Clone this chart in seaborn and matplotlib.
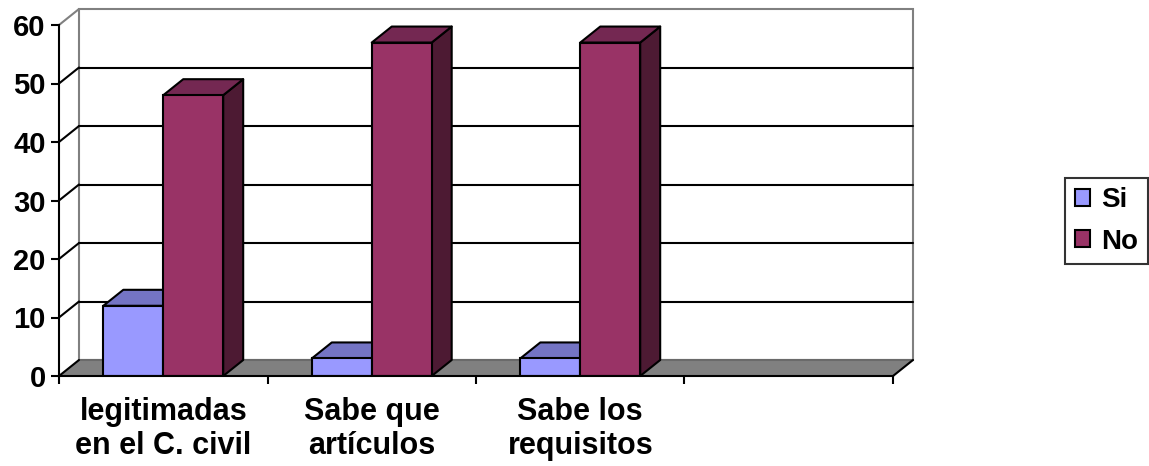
import numpy as np
import pandas as pd
import matplotlib
matplotlib.use("Agg")
import matplotlib.pyplot as plt
import seaborn as sns
from matplotlib.patches import Polygon, Patch
from matplotlib.lines import Line2D

# ---- data -------------------------------------------------------------
categories = ["legitimadas\nen el C. civil", "Sabe que\nartículos", "Sabe los\nrequisitos"]
series = ["Si", "No"]
si_values = [12, 3, 3]
no_values = [48, 57, 57]
y_ticks = [0, 10, 20, 30, 40, 50, 60]
n_slots = 4  # category slots on the axis (last one left empty)

# ---- style ------------------------------------------------------------
sns.set_theme(style="white")
plt.rcParams["font.family"] = ["Liberation Sans", "DejaVu Sans"]
plt.rcParams["font.weight"] = "bold"
plt.rcParams["text.color"] = "black"
plt.rcParams["xtick.color"] = "black"
plt.rcParams["ytick.color"] = "black"
plt.rcParams["xtick.labelcolor"] = "black"
plt.rcParams["ytick.labelcolor"] = "black"

front_colors = {"Si": "#9999FF", "No": "#993366"}
top_colors = {"Si": "#7474C4", "No": "#742852"}
side_colors = {"Si": "#5C5CA0", "No": "#4D1A33"}
FLOOR = "#808080"
WALL_EDGE = "#808080"
LW = 1.5
DEPTH_PX = (20, 16)  # depth of the 3D box in pixels (right, up)

W, H, DPI = 1149, 466, 100
fig = plt.figure(figsize=(W / DPI, H / DPI), dpi=DPI)
fig.patch.set_facecolor("white")
ax = fig.add_axes([59 / W, 90 / H, (893 - 59) / W, (376 - 25) / H])
ax.set_facecolor("none")

df = pd.DataFrame({
    "category": categories * 2,
    "series": ["Si"] * len(categories) + ["No"] * len(categories),
    "value": si_values + no_values,
})

sns.barplot(data=df, x="category", y="value", hue="series",
            order=categories, hue_order=series,
            palette=[front_colors[s] for s in series],
            width=0.575, gap=0, saturation=1,
            edgecolor="black", linewidth=LW, ax=ax, legend=False, zorder=3)

x_lo, x_hi = -0.5, n_slots - 0.5
ax.set_xlim(x_lo, x_hi)
ax.set_ylim(y_ticks[0], y_ticks[-1])

# depth offset expressed in data units
p0 = ax.transData.transform((0, 0))
dxd, dyd = ax.transData.inverted().transform(p0 + np.array(DEPTH_PX)) - np.array([0, 0])

# back wall
wall = Polygon([(x_lo + dxd, dyd), (x_hi + dxd, dyd),
                (x_hi + dxd, y_ticks[-1] + dyd), (x_lo + dxd, y_ticks[-1] + dyd)],
               closed=True, facecolor="white", edgecolor=WALL_EDGE, lw=LW,
               zorder=0.5, clip_on=False)
ax.add_patch(wall)

# gridlines on the back wall and on the left side wall
for t in y_ticks[1:-1]:
    ax.add_line(Line2D([x_lo + dxd, x_hi + dxd], [t + dyd, t + dyd],
                       color="black", lw=LW, zorder=0.6, clip_on=False))
    ax.add_line(Line2D([x_lo, x_lo + dxd], [t, t + dyd],
                       color="black", lw=LW, zorder=0.6, clip_on=False))
top = y_ticks[-1]
ax.add_line(Line2D([x_lo, x_lo + dxd], [top, top + dyd],
                   color=WALL_EDGE, lw=LW, zorder=0.6, clip_on=False))

# floor
floor = Polygon([(x_lo, 0), (x_hi, 0), (x_hi + dxd, dyd), (x_lo + dxd, dyd)],
                closed=True, facecolor=FLOOR, edgecolor="none",
                zorder=0.8, clip_on=False)
ax.add_patch(floor)
ax.add_line(Line2D([x_lo + dxd, x_hi + dxd], [dyd, dyd],
                   color="#6a6a6a", lw=LW, zorder=0.85, clip_on=False))
for xe in (x_lo, x_hi):
    ax.add_line(Line2D([xe, xe + dxd], [0, dyd],
                       color="black", lw=LW, zorder=0.9, clip_on=False))

# 3D tops and sides for every bar
for s, cont in zip(series, ax.containers):
    for rect in cont:
        x0, w, h = rect.get_x(), rect.get_width(), rect.get_height()
        x1 = x0 + w
        top_face = Polygon([(x0, h), (x1, h), (x1 + dxd, h + dyd), (x0 + dxd, h + dyd)],
                           closed=True, facecolor=top_colors[s], edgecolor="black",
                           lw=LW, zorder=2, clip_on=False, joinstyle="round")
        side_face = Polygon([(x1, 0), (x1 + dxd, dyd), (x1 + dxd, h + dyd), (x1, h)],
                            closed=True, facecolor=side_colors[s], edgecolor="black",
                            lw=LW, zorder=2, clip_on=False, joinstyle="round")
        ax.add_patch(side_face)
        ax.add_patch(top_face)

# axes, ticks and labels
for sp in ("top", "right"):
    ax.spines[sp].set_visible(False)
for sp in ("left", "bottom"):
    ax.spines[sp].set_color("black")
    ax.spines[sp].set_linewidth(LW)
    ax.spines[sp].set_zorder(4)

ax.set_yticks(y_ticks)
ax.set_yticklabels([str(t) for t in y_ticks], fontsize=21, fontweight="bold", color="black")
ax.tick_params(axis="y", direction="out", length=6, width=LW, color="black", pad=3.5, left=True)

ax.set_xticks(range(len(categories)))
ax.set_xticklabels(categories, fontsize=22, fontweight="bold", linespacing=1.2, color="black")
ax.set_xticks(np.arange(x_lo, x_hi + 0.01, 1.0), minor=True)
ax.tick_params(axis="x", which="major", length=0, pad=15)
ax.tick_params(axis="x", which="minor", direction="out", length=6, width=LW,
               color="black", bottom=True)
ax.set_xlabel("")
ax.set_ylabel("")

# legend
handles = [Patch(facecolor=front_colors[s], edgecolor="black", lw=LW, label=s) for s in series]
leg = fig.legend(handles=handles, loc="center left", bbox_to_anchor=(1065 / W, 245 / H),
                 bbox_transform=fig.transFigure, frameon=True, fancybox=False,
                 prop={"size": 20, "weight": "bold"}, handlelength=0.55, handleheight=0.55,
                 handletextpad=0.4, labelspacing=0.55, borderpad=0.35, borderaxespad=0,
                 labelcolor="black")
leg.get_frame().set_edgecolor("black")
leg.get_frame().set_linewidth(LW)

fig.savefig("out.png", dpi=DPI, facecolor="white")
